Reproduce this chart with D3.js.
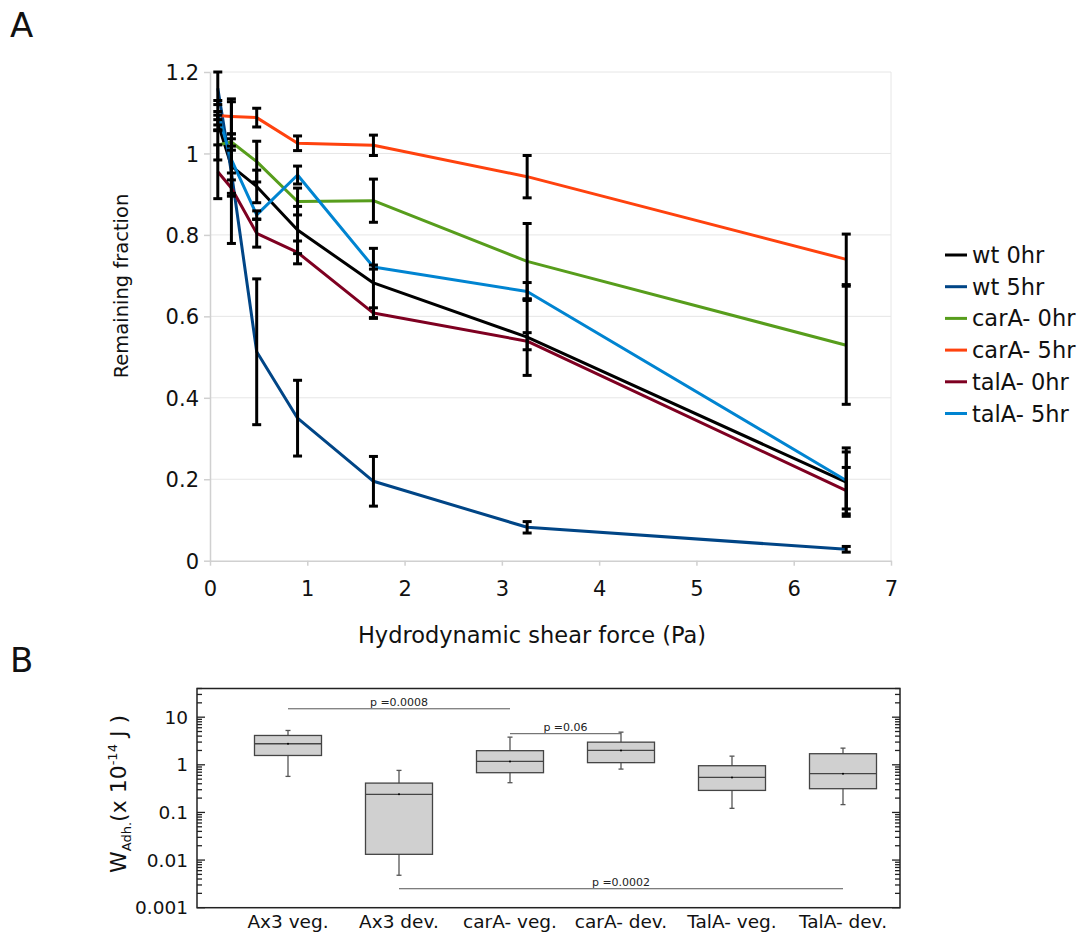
<!DOCTYPE html>
<html><head><meta charset="utf-8">
<script src="https://cdn.jsdelivr.net/npm/d3@7"></script>
<style>body{margin:0;background:#fff}svg{display:block}text{font-family:"DejaVu Sans",sans-serif}</style>
</head><body>
<svg id="c" width="1082" height="938"></svg>
<script>
// ---------- Panel A data ----------
const shear = [0.08, 0.22, 0.48, 0.9, 1.68, 3.26, 6.54];
const seriesNames = ["wt 0hr", "wt 5hr", "carA- 0hr", "carA- 5hr", "talA- 0hr", "talA- 5hr"];
const seriesColors = ["#000000", "#004586", "#579d1c", "#ff420e", "#7e0021", "#0084d1"];
const wt0 = [1.075, 0.969, 0.919, 0.812, 0.682, 0.549, 0.193];
const wt5 = [1.16, 0.953, 0.513, 0.35, 0.195, 0.082, 0.028];
const carA0 = [1.021, 1.028, 0.98, 0.882, 0.884, 0.735, 0.529];
const carA5 = [1.093, 1.091, 1.088, 1.025, 1.02, 0.943, 0.74];
const talA0 = [0.955, 0.915, 0.804, 0.757, 0.608, 0.539, 0.172];
const talA5 = [1.1, 0.985, 0.849, 0.947, 0.721, 0.661, 0.197];
const wt0Err = [0.019, 0.067, 0.04, 0.058, 0.085, 0.094, 0.084];
const wt5Err = [0.04, 0.174, 0.179, 0.093, 0.061, 0.014, 0.007];
const carA0Err = [0.037, 0.02, 0.05, 0.033, 0.053, 0.093, 0.145];
const carA5Err = [0.01, 0.043, 0.023, 0.018, 0.025, 0.052, 0.062];
const talA0Err = [0.066, 0.02, 0.034, 0.028, 0.013, 0.021, 0.057];
const talA5Err = [0.03, 0.033, 0.01, 0.022, 0.005, 0.022, 0.07];
const yTicksA = [0, 0.2, 0.4, 0.6, 0.8, 1, 1.2];
const xTicksA = [0, 1, 2, 3, 4, 5, 6, 7];

// ---------- Panel B data ----------
const groups = ["Ax3 veg.", "Ax3 dev.", "carA- veg.", "carA- dev.", "TalA- veg.", "TalA- dev."];
const whiskerLow = [0.571, 0.0048, 0.421, 0.813, 0.122, 0.146];
const q1 = [1.57, 0.0132, 0.683, 1.11, 0.29, 0.315];
const median = [2.77, 0.24, 1.18, 2.0, 0.544, 0.65];
const q3 = [4.13, 0.413, 1.98, 2.99, 0.957, 1.71];
const whiskerHigh = [5.26, 0.763, 3.81, 4.85, 1.52, 2.24];
const sigFrom = ["Ax3 veg.", "carA- veg.", "Ax3 dev."];
const sigTo = ["carA- veg.", "carA- dev.", "TalA- dev."];
const sigLevel = [15, 4.5, 0.0025];
const sigText = ["p =0.0008", "p =0.06", "p =0.0002"];
const yTicksB = [0.001, 0.01, 0.1, 1, 10];
const yTickLabelsB = ["0.001", "0.01", "0.1", "1", "10"];

const svg = d3.select("#c");
svg.append("rect").attr("width", 1082).attr("height", 938).attr("fill", "#fff");

// ================= Panel A =================
const xA = d3.scaleLinear().domain([0, 7]).range([210, 891]);
const yA = d3.scaleLinear().domain([0, 1.2]).range([560.7, 72]);
const gA = svg.append("g");

gA.append("g").selectAll("line").data(yTicksA.filter(d => d > 0)).join("line")
  .attr("x1", xA(0)).attr("x2", xA(7)).attr("y1", d => yA(d)).attr("y2", d => yA(d))
  .attr("stroke", "#e6e6e6").attr("stroke-width", 1);
gA.append("line").attr("x1", xA(7)).attr("x2", xA(7)).attr("y1", yA(1.2)).attr("y2", yA(0))
  .attr("stroke", "#e6e6e6");

const axXA = gA.append("g").attr("transform", `translate(0,${yA(0)})`)
  .call(d3.axisBottom(xA).tickValues(xTicksA).tickSize(5).tickSizeOuter(0).tickFormat(d3.format("d")));
const axYA = gA.append("g").attr("transform", `translate(${xA(0)},0)`)
  .call(d3.axisLeft(yA).tickValues(yTicksA).tickSize(6).tickSizeOuter(0).tickFormat(d => d3.format("~g")(d)));
[axXA, axYA].forEach(a => {
  a.select(".domain").attr("stroke", "#d0d0d0").attr("stroke-width", 1.5);
  a.selectAll(".tick line").attr("stroke", "#d0d0d0").attr("stroke-width", 1.5);
  a.selectAll("text").attr("font-size", 21).attr("fill", "#111").attr("font-family", "DejaVu Sans");
});
axXA.selectAll("text").attr("dy", null).attr("y", 35);
axYA.selectAll("text").attr("x", -11).attr("dy", "0.36em");

const valuesA = [wt0, wt5, carA0, carA5, talA0, talA5];
const errsA = [wt0Err, wt5Err, carA0Err, carA5Err, talA0Err, talA5Err];
const line = d3.line().x((d, i) => xA(shear[i])).y(d => yA(d));
gA.append("g").selectAll("path").data(valuesA).join("path")
  .attr("d", d => line(d)).attr("fill", "none")
  .attr("stroke", (d, i) => seriesColors[i]).attr("stroke-width", 3).attr("stroke-linejoin", "round");

const eb = gA.append("g").attr("stroke", "#000").attr("stroke-width", 3);
valuesA.forEach((vals, s) => {
  vals.forEach((v, i) => {
    const e = errsA[s][i], x = xA(shear[i]);
    eb.append("line").attr("x1", x).attr("x2", x).attr("y1", yA(v + e)).attr("y2", yA(v - e));
    eb.append("line").attr("x1", x - 4.5).attr("x2", x + 4.5).attr("y1", yA(v + e)).attr("y2", yA(v + e));
    eb.append("line").attr("x1", x - 4.5).attr("x2", x + 4.5).attr("y1", yA(v - e)).attr("y2", yA(v - e));
  });
});

gA.append("text").attr("x", 532).attr("y", 643).attr("text-anchor", "middle")
  .attr("font-size", 22.5).attr("fill", "#111").text("Hydrodynamic shear force (Pa)");
gA.append("text").attr("transform", "translate(128,286) rotate(-90)").attr("text-anchor", "middle")
  .attr("font-size", 19.5).attr("fill", "#111").text("Remaining fraction");

const leg = gA.append("g").selectAll("g").data(seriesNames).join("g")
  .attr("transform", (d, i) => `translate(945,${255 + i * 31.7})`);
leg.append("line").attr("x1", 0).attr("x2", 22).attr("stroke", (d, i) => seriesColors[i]).attr("stroke-width", 3);
leg.append("text").attr("x", 27).attr("y", 8).attr("font-size", 22.5).attr("fill", "#111").text(d => d);

svg.append("text").attr("x", 10).attr("y", 37).attr("font-size", 34).attr("fill", "#111").text("A");
svg.append("text").attr("x", 10).attr("y", 672).attr("font-size", 34).attr("fill", "#111").text("B");

// ================= Panel B =================
const yB = d3.scaleLog().domain([0.001, 40]).range([907.7, 688.5]);
const xB = d3.scalePoint().domain(groups).range([288, 843]);
const L = 197, R = 900;
const gB = svg.append("g");

const minor = [];
for (let k = -3; k <= 1; k++) for (let m = 2; m <= 9; m++) { const v = m * Math.pow(10, k); if (v <= 40) minor.push(v); }
const tk = gB.append("g").attr("stroke", "#222").attr("stroke-width", 1.3);
tk.selectAll(".mnl").data(minor).join("line").attr("x1", L).attr("x2", L + 5).attr("y1", d => yB(d)).attr("y2", d => yB(d));
tk.selectAll(".mnr").data(minor).join("line").attr("x1", R).attr("x2", R - 5).attr("y1", d => yB(d)).attr("y2", d => yB(d));
tk.selectAll(".mjl").data(yTicksB).join("line").attr("x1", L).attr("x2", L + 8).attr("y1", d => yB(d)).attr("y2", d => yB(d));
tk.selectAll(".mjr").data(yTicksB).join("line").attr("x1", R).attr("x2", R - 8).attr("y1", d => yB(d)).attr("y2", d => yB(d));
gB.append("rect").attr("x", L).attr("y", yB(40)).attr("width", R - L).attr("height", yB(0.001) - yB(40))
  .attr("fill", "none").attr("stroke", "#222").attr("stroke-width", 1.5);
gB.append("g").selectAll("text").data(yTicksB).join("text")
  .attr("x", 188).attr("y", d => yB(d) + 6.5).attr("text-anchor", "end")
  .attr("font-size", 18.5).attr("fill", "#111").text((d, i) => yTickLabelsB[i]);

const bw = 67;
const bx = gB.append("g");
groups.forEach((g, i) => {
  const cx = xB(g);
  bx.append("line").attr("x1", cx).attr("x2", cx).attr("y1", yB(whiskerHigh[i])).attr("y2", yB(whiskerLow[i]))
    .attr("stroke", "#555").attr("stroke-width", 1.3);
  [whiskerHigh[i], whiskerLow[i]].forEach(v =>
    bx.append("line").attr("x1", cx - 2.5).attr("x2", cx + 2.5).attr("y1", yB(v)).attr("y2", yB(v))
      .attr("stroke", "#555").attr("stroke-width", 1.3));
  bx.append("rect").attr("x", cx - bw / 2).attr("y", yB(q3[i])).attr("width", bw).attr("height", yB(q1[i]) - yB(q3[i]))
    .attr("fill", "#d0d0d0").attr("stroke", "#444").attr("stroke-width", 1.3);
  bx.append("line").attr("x1", cx - bw / 2).attr("x2", cx + bw / 2).attr("y1", yB(median[i])).attr("y2", yB(median[i]))
    .attr("stroke", "#444").attr("stroke-width", 1.3);
  bx.append("circle").attr("cx", cx).attr("cy", yB(median[i])).attr("r", 1).attr("fill", "#000");
});

sigText.forEach((t, i) => {
  const x1 = xB(sigFrom[i]), x2 = xB(sigTo[i]), y = yB(sigLevel[i]);
  gB.append("line").attr("x1", x1).attr("x2", x2).attr("y1", y).attr("y2", y).attr("stroke", "#555").attr("stroke-width", 1);
  gB.append("text").attr("x", (x1 + x2) / 2).attr("y", y - 3).attr("text-anchor", "middle")
    .attr("font-size", 11).attr("fill", "#222").text(t);
});

gB.append("g").selectAll("text").data(groups).join("text")
  .attr("x", d => xB(d)).attr("y", 928).attr("text-anchor", "middle")
  .attr("font-size", 18.5).attr("fill", "#111").text(d => d);

const yt = gB.append("text").attr("transform", "translate(126,794) rotate(-90)").attr("text-anchor", "middle")
  .attr("font-size", 22).attr("fill", "#111");
yt.append("tspan").text("W");
yt.append("tspan").attr("font-size", 13).attr("dy", 5).text("Adh.");
yt.append("tspan").attr("dy", -5).text("(x 10");
yt.append("tspan").attr("font-size", 13).attr("dy", -9).text("-14");
yt.append("tspan").attr("dy", 9).text(" J )");
</script>
</body></html>
